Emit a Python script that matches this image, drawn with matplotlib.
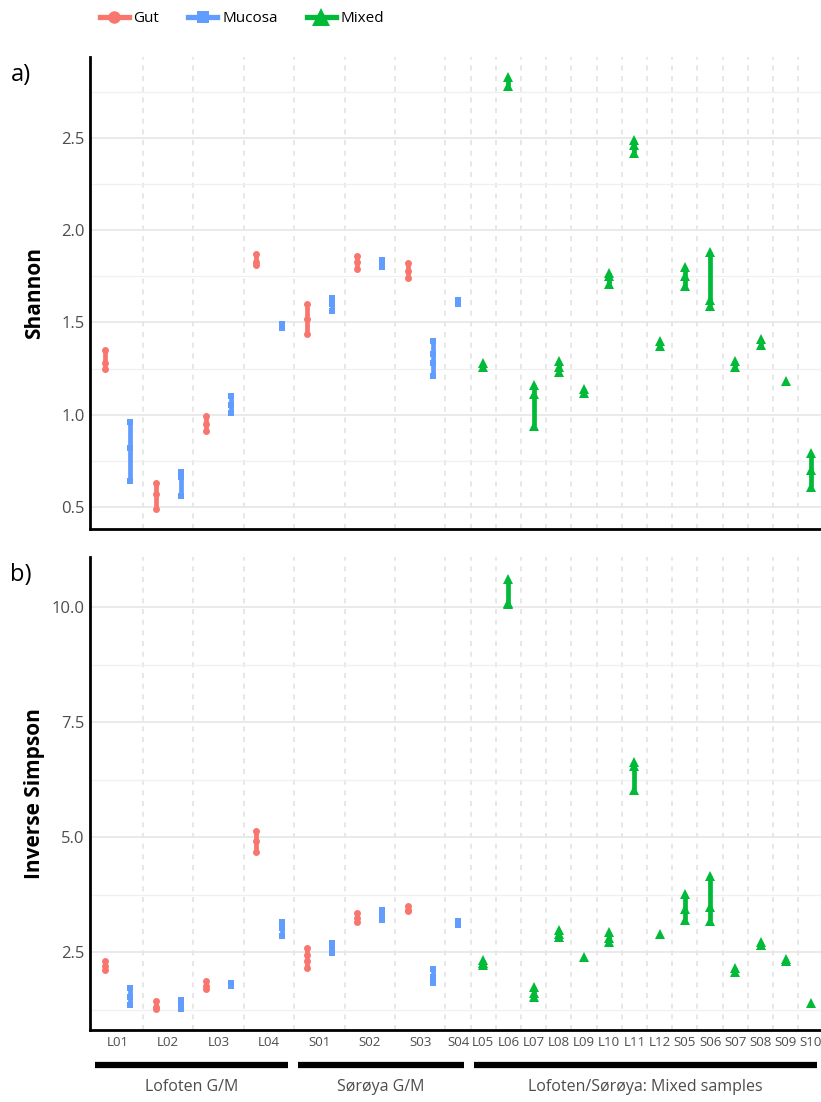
import matplotlib
matplotlib.use("Agg")
import matplotlib.pyplot as plt
from matplotlib.lines import Line2D
import numpy as np

plt.rcParams['font.family'] = ['Open Sans', 'DejaVu Sans']

# one entry per plotted column (sample x sample type)
slot_samples = ['L01', 'L01', 'L02', 'L02', 'L03', 'L03', 'L04', 'L04',
                'S01', 'S01', 'S02', 'S02', 'S03', 'S03', 'S04',
                'L05', 'L06', 'L07', 'L08', 'L09', 'L10', 'L11', 'L12',
                'S05', 'S06', 'S07', 'S08', 'S09', 'S10']
slot_types = ['Gut', 'Mucosa'] * 7 + ['Mucosa'] + ['Mixed'] * 14

shannon = [
    [1.35, 1.28, 1.25], [0.96, 0.82, 0.64],
    [0.63, 0.57, 0.49], [0.69, 0.66, 0.56],
    [0.99, 0.95, 0.91], [1.10, 1.05, 1.01],
    [1.87, 1.83, 1.81], [1.49, 1.47],
    [1.60, 1.52, 1.44], [1.63, 1.60, 1.56],
    [1.86, 1.83, 1.79], [1.84, 1.82, 1.80],
    [1.82, 1.78, 1.74], [1.40, 1.33, 1.28, 1.21],
    [1.62, 1.60],
    [1.28, 1.26], [2.83, 2.78], [1.16, 1.11, 0.94], [1.29, 1.26, 1.23],
    [1.14, 1.12], [1.77, 1.75, 1.71], [2.49, 2.46, 2.42], [1.40, 1.37],
    [1.80, 1.75, 1.70], [1.88, 1.62, 1.59], [1.29, 1.26], [1.41, 1.38],
    [1.18], [0.79, 0.70, 0.61],
]

invsimpson = [
    [2.31, 2.20, 2.11], [1.72, 1.53, 1.35],
    [1.44, 1.30, 1.27], [1.46, 1.35, 1.26],
    [1.88, 1.76, 1.70], [1.84, 1.76],
    [5.14, 4.92, 4.67], [3.16, 3.03, 2.86],
    [2.60, 2.45, 2.30, 2.15], [2.70, 2.57, 2.48],
    [3.36, 3.25, 3.15], [3.42, 3.30, 3.20],
    [3.51, 3.42, 3.39], [2.14, 1.97, 1.83],
    [3.18, 3.09],
    [2.34, 2.27, 2.22], [10.62, 10.10, 10.07], [1.75, 1.62, 1.52],
    [2.98, 2.90, 2.83], [2.40], [2.94, 2.80, 2.72], [6.64, 6.55, 6.03],
    [2.90], [3.77, 3.45, 3.20], [4.16, 3.48, 3.18], [2.15, 2.08],
    [2.73, 2.65], [2.36, 2.30], [1.40],
]

groups = ['Lofoten G/M', 'Sørøya G/M', 'Lofoten/Sørøya: Mixed samples']
group_first = ['L01', 'S01', 'L05']
group_last = ['L04', 'S04', 'S10']

colors = {'Gut': '#F8766D', 'Mucosa': '#619CFF', 'Mixed': '#00BA38'}
markers = {'Gut': ('o', 5.0), 'Mucosa': ('s', 4.6), 'Mixed': ('^', 7.0)}

# tick positions = centre of each sample's columns
sample_names = list(dict.fromkeys(slot_samples))
idx = np.arange(len(slot_samples))
tick_pos = [idx[np.array(slot_samples) == s].mean() for s in sample_names]
boundaries = [i + 0.5 for i in range(len(slot_samples) - 1)
              if slot_samples[i] != slot_samples[i + 1]]

fig = plt.figure(figsize=(8.21, 11.02), dpi=100)
ax1 = fig.add_axes([0.1096, 0.520, 0.8904, 0.4283])
ax2 = fig.add_axes([0.1096, 0.0653, 0.8904, 0.4293])

grey = '#4d4d4d'


def draw_panel(ax, values, ylim, major, minor, ylabel, tag):
    for b in boundaries:
        ax.axvline(b, color='#e3e3e3', lw=1.2, dashes=(3.0, 3.4), zorder=0)
    for y in minor:
        ax.axhline(y, color='#f0f0f0', lw=1.0, zorder=0)
    for y in major:
        ax.axhline(y, color='#e8e8e8', lw=1.3, zorder=0)
    for i, (vals, t) in enumerate(zip(values, slot_types)):
        m, ms = markers[t]
        ax.plot([i] * len(vals), vals, color=colors[t], lw=3.4,
                marker=m, ms=ms, mew=0, solid_capstyle='butt', zorder=3)
    ax.set_xlim(-0.6, 28.4)
    ax.set_ylim(*ylim)
    ax.set_yticks(major)
    ax.set_yticklabels([f'{v:.1f}' for v in major])
    ax.tick_params(axis='y', length=0, labelsize=12, labelcolor=grey, pad=4)
    ax.set_ylabel(ylabel, fontsize=15, fontweight='bold')
    ax.yaxis.set_label_coords(-0.062, 0.5)
    for s in ['top', 'right']:
        ax.spines[s].set_visible(False)
    for s in ['left', 'bottom']:
        ax.spines[s].set_linewidth(2.0)
        ax.spines[s].set_color('black')
    ax.text(-0.095, 0.962, tag, transform=ax.transAxes, fontsize=17,
            ha='center', va='center')


draw_panel(ax1, shannon, (0.38, 2.94), [0.5, 1.0, 1.5, 2.0, 2.5],
           [0.75, 1.25, 1.75, 2.25, 2.75], 'Shannon', 'a)')
draw_panel(ax2, invsimpson, (0.81, 11.09), [2.5, 5.0, 7.5, 10.0],
           [1.25, 3.75, 6.25, 8.75], 'Inverse Simpson', 'b)')
ax1.set_xticks([])
ax2.set_xticks(tick_pos)
ax2.set_xticklabels(sample_names)
ax2.tick_params(axis='x', length=0, labelsize=9.6, labelcolor=grey, pad=4)

# group brackets under the x axis
trans = ax2.get_xaxis_transform()
for name, a, b in zip(groups, group_first, group_last):
    x0 = idx[slot_samples.index(a)] - (0.4 if a == 'L01' else 0.35)
    x1 = idx[len(slot_samples) - 1 - slot_samples[::-1].index(b)] + 0.25
    ax2.plot([x0, x1], [-0.074, -0.074], color='black', lw=4.5,
             transform=trans, clip_on=False, solid_capstyle='butt')
    ax2.text((x0 + x1) / 2, -0.12, name, transform=trans, ha='center',
             va='center', fontsize=11.5, color=grey)

handles = [Line2D([], [], color=colors[t], lw=3.8, marker=markers[t][0],
                  ms=markers[t][1] * 1.8, mew=0, label=t)
           for t in ['Gut', 'Mucosa', 'Mixed']]
fig.legend(handles=handles, loc='center left', bbox_to_anchor=(0.105, 0.983),
           ncol=3, frameon=False, fontsize=11, handlelength=1.9,
           handletextpad=0.3, columnspacing=1.9)

fig.savefig('out.png', dpi=100)
